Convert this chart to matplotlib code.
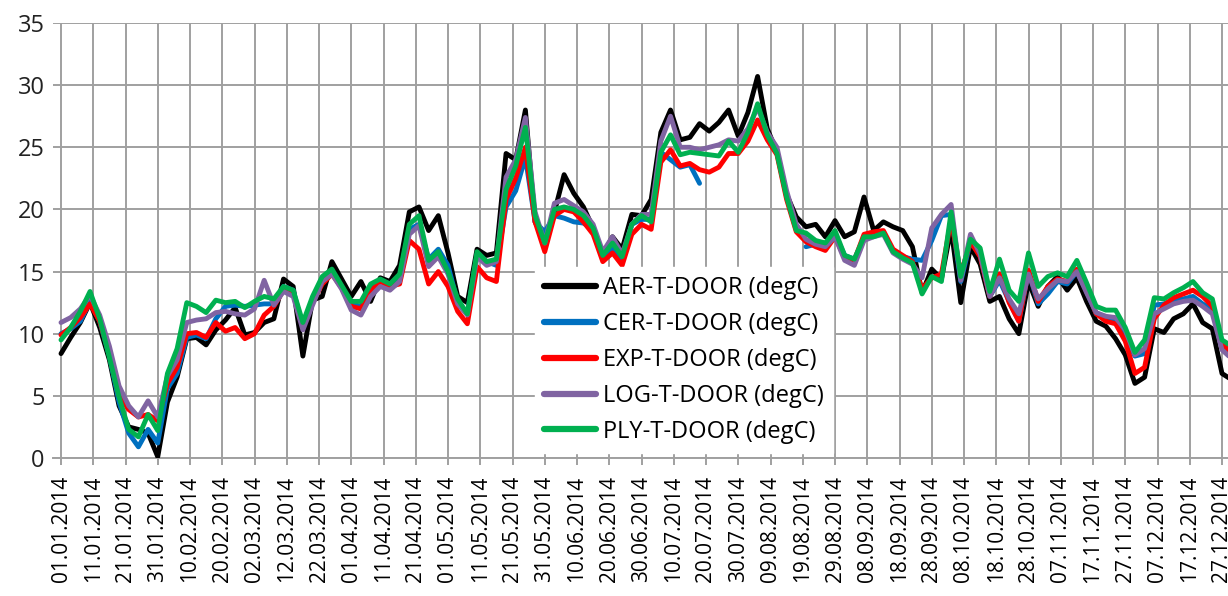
import numpy as np
import pandas as pd
import matplotlib
matplotlib.use("Agg")
import matplotlib.pyplot as plt

plt.rcParams['font.family'] = ['Open Sans', 'DejaVu Sans']

# sample days (offset from 01.01.2014), every 3 days
start = pd.Timestamp('2014-01-01')
sample_days = list(range(0, 364, 3))

nan = np.nan
aer = [8.4, 9.7, 10.9, 12.5, 10.5, 7.9, 4.2, 2.5, 2.3, 2.0,
       0.1, 4.5, 6.5, 9.6, 9.7, 9.1, 10.3, 11.1, 12.1, 9.9,
       10.1, 10.9, 11.2, 14.4, 13.8, 8.2, 12.7, 13.0, 15.8, 14.4,
       13.0, 14.2, 12.6, 14.5, 14.2, 15.5, 19.8, 20.2, 18.3, 19.5,
       16.5, 13.0, 12.5, 16.8, 16.3, 16.5, 24.5, 24.0, 28.0, 19.0,
       17.5, 19.8, 22.8, 21.3, 20.2, 18.5, 16.3, 17.8, 16.8, 19.6,
       19.5, 20.8, 26.2, 28.0, 25.6, 25.8, 26.9, 26.3, 27.0, 28.0,
       25.9, 27.8, 30.7, 26.5, 24.6, 21.2, 19.4, 18.6, 18.8, 17.8,
       19.1, 17.8, 18.2, 21.0, 18.3, 19.0, 18.6, 18.3, 17.0, 13.3,
       15.2, 14.4, 18.5, 12.5, 17.0, 15.6, 12.6, 13.0, 11.2, 10.0,
       14.2, 12.2, 13.8, 14.6, 13.5, 14.5, 12.6, 11.0, 10.6, 9.6,
       8.3, 6.0, 6.5, 10.4, 10.1, 11.2, 11.6, 12.4, 10.9, 10.4,
       6.8, 6.3]
cer = [10.0, 10.4, 11.0, 12.6, 11.0, 8.2, 4.5, 2.0, 0.9, 2.3,
       1.2, 5.6, 6.8, 9.7, 9.9, 9.6, 11.2, 12.2, 12.3, 12.2,
       12.3, 12.4, 12.4, 13.8, 13.5, 10.5, 12.8, 14.2, 15.0, 13.8,
       12.4, 12.2, 13.6, 14.3, 14.0, 14.6, 18.4, 18.8, 16.0, 16.8,
       15.5, 12.5, 11.6, 16.4, 15.8, 15.5, 20.2, 21.5, 24.2, 19.0,
       18.2, 19.5, 19.3, 19.0, 18.9, 18.4, 16.2, 16.8, 16.0, 18.8,
       19.2, 19.2, 24.6, 24.0, 23.4, 23.6, 22.1, nan, nan, nan,
       nan, nan, nan, nan, nan, nan, nan, 17.0, 17.2, 17.0,
       18.0, 16.3, 16.0, 17.6, 18.0, 18.2, 16.6, 16.2, 16.0, 15.9,
       17.5, 19.5, 19.6, 14.2, 17.4, 16.4, 13.0, 14.3, 12.6, 11.0,
       15.0, 12.4, 13.2, 14.2, 14.0, 15.0, 13.4, 11.6, 11.3, 11.0,
       9.8, 8.2, 8.4, 12.3, 12.4, 12.7, 12.8, 13.0, 12.4, 12.0,
       8.8, 8.0]
exp = [9.9, 10.5, 11.3, 12.4, 11.0, 8.4, 5.0, 3.9, 3.3, 3.5,
       3.0, 6.0, 7.3, 10.0, 10.1, 9.7, 10.9, 10.2, 10.5, 9.6,
       10.0, 11.5, 12.2, 13.5, 13.3, 10.6, 12.5, 14.0, 14.8, 13.7,
       12.2, 12.0, 13.4, 14.2, 13.8, 14.0, 17.5, 16.8, 14.0, 15.0,
       13.8, 11.8, 10.8, 15.4, 14.5, 14.2, 20.8, 22.5, 25.0, 19.0,
       16.6, 19.5, 20.0, 19.8, 19.0, 18.0, 15.8, 16.5, 15.5, 18.0,
       18.8, 18.4, 23.8, 24.8, 23.5, 23.7, 23.2, 23.0, 23.4, 24.5,
       24.5, 25.5, 27.2, 25.6, 24.4, 20.8, 18.2, 17.4, 17.0, 16.7,
       17.8, 16.1, 15.9, 18.0, 18.2, 18.3, 16.8, 16.3, 15.8, 13.6,
       14.5, 14.8, 19.2, 14.8, 17.4, 16.2, 13.0, 14.8, 12.5, 11.0,
       15.1, 12.6, 13.8, 14.4, 14.2, 15.2, 13.6, 11.6, 11.0, 10.8,
       9.4, 6.8, 7.3, 11.2, 12.3, 12.9, 13.2, 13.5, 13.0, 12.2,
       9.2, 8.5]
log = [10.9, 11.3, 12.0, 13.1, 11.5, 9.0, 5.8, 4.2, 3.3, 4.6,
       3.3, 6.6, 7.9, 10.9, 11.1, 11.2, 11.7, 11.8, 11.6, 11.5,
       12.0, 14.3, 12.3, 13.4, 13.0, 10.3, 12.3, 14.2, 14.8, 13.6,
       11.9, 11.5, 13.0, 13.8, 13.5, 14.2, 18.0, 18.7, 15.4, 16.2,
       14.8, 12.4, 11.5, 16.2, 15.5, 15.8, 22.6, 24.0, 27.4, 19.8,
       17.3, 20.5, 20.8, 20.3, 19.8, 18.8, 16.6, 17.8, 16.4, 18.8,
       19.6, 19.6, 25.5, 27.5, 25.0, 25.0, 24.8, 25.0, 25.2, 25.6,
       25.5, 26.5, 28.2, 26.2, 25.0, 21.5, 18.8, 17.6, 17.2, 17.0,
       17.8, 15.9, 15.5, 17.5, 17.8, 18.0, 16.5, 16.0, 15.6, 14.5,
       18.5, 19.6, 20.4, 14.3, 18.0, 16.4, 13.0, 14.5, 12.8, 11.6,
       14.8, 12.8, 13.6, 14.3, 14.2, 15.0, 13.3, 11.7, 11.4, 11.3,
       10.3, 8.3, 8.8, 11.6, 12.0, 12.4, 12.6, 12.7, 12.2, 11.6,
       8.7, 8.0]
ply = [9.5, 10.5, 11.8, 13.4, 11.2, 8.1, 4.9, 2.3, 1.7, 3.5,
       2.2, 6.8, 8.8, 12.5, 12.2, 11.7, 12.7, 12.5, 12.6, 12.1,
       12.6, 13.0, 12.8, 13.8, 13.5, 10.9, 13.0, 14.6, 15.2, 13.9,
       12.6, 12.6, 14.0, 14.4, 14.0, 14.8, 18.8, 19.5, 15.9, 16.6,
       15.0, 12.8, 11.6, 16.6, 15.8, 16.0, 21.6, 23.5, 26.6, 19.5,
       17.3, 20.0, 20.2, 20.0, 19.5, 18.5, 16.3, 17.3, 16.2, 18.8,
       19.5, 19.0, 24.6, 26.0, 24.4, 24.6, 24.5, 24.4, 24.3, 25.5,
       24.6, 26.2, 28.5, 26.0, 24.5, 21.0, 18.3, 18.1, 17.5, 17.3,
       18.3, 16.3, 16.0, 17.8, 17.8, 18.1, 16.6, 16.1, 15.7, 13.2,
       14.6, 14.2, 19.8, 14.6, 17.6, 16.9, 13.4, 16.0, 13.5, 12.6,
       16.5, 13.8, 14.6, 14.9, 14.6, 15.9, 14.1, 12.2, 11.9, 11.9,
       10.5, 8.5, 9.5, 12.9, 12.8, 13.3, 13.7, 14.2, 13.3, 12.8,
       9.5, 9.0]

series_names = ['AER-T-DOOR (degC)', 'CER-T-DOOR (degC)', 'EXP-T-DOOR (degC)',
                'LOG-T-DOOR (degC)', 'PLY-T-DOOR (degC)']
series_colors = ['#000000', '#0070C0', '#FF0000', '#8064A2', '#00B050']

tick_labels = ['01.01.2014', '11.01.2014', '21.01.2014', '31.01.2014', '10.02.2014',
               '20.02.2014', '02.03.2014', '12.03.2014', '22.03.2014', '01.04.2014',
               '11.04.2014', '21.04.2014', '01.05.2014', '11.05.2014', '21.05.2014',
               '31.05.2014', '10.06.2014', '20.06.2014', '30.06.2014', '10.07.2014',
               '20.07.2014', '30.07.2014', '09.08.2014', '19.08.2014', '29.08.2014',
               '08.09.2014', '18.09.2014', '28.09.2014', '08.10.2014', '18.10.2014',
               '28.10.2014', '07.11.2014', '17.11.2014', '27.11.2014', '07.12.2014',
               '17.12.2014', '27.12.2014']

W, H = 1228, 596
fig = plt.figure(figsize=(W / 100, H / 100), dpi=100)
px_day = 3.225
x0_px = 61.0
left_px, right_day = 53.0, 366.0
xl = -(x0_px - left_px) / px_day
right_px = x0_px + right_day * px_day
ax = fig.add_axes([left_px / W, (H - 458) / H, (right_px - left_px) / W, 435 / H])

x = np.array(sample_days, dtype=float)
for vals, name, col in zip([aer, cer, exp, log, ply], series_names, series_colors):
    ax.plot(x, np.array(vals, dtype=float), color=col, lw=3.5, label=name,
            solid_joinstyle='round', solid_capstyle='round', zorder=3)

ax.set_xlim(xl, right_day)
ax.set_ylim(0, 35)
grid_col = '#a0a0a0'
tick_pos = []
for lab in tick_labels:
    d = pd.to_datetime(lab, format='%d.%m.%Y')
    tick_pos.append((d - start).days)
ax.set_xticks(tick_pos)
ax.set_xticklabels(tick_labels, rotation=90, fontsize=15, color='#000000')
ax.set_yticks(np.arange(0, 36, 5))
ax.set_yticklabels([str(v) for v in range(0, 36, 5)], fontsize=17, color='#222222')
ax.grid(True, color=grid_col, lw=1.4, zorder=0)
ax.set_axisbelow(True)
for s in ['top', 'right', 'left']:
    ax.spines[s].set_visible(False)
ax.spines['bottom'].set_color(grid_col)
ax.spines['bottom'].set_linewidth(1.4)
ax.tick_params(axis='x', length=5, width=1.4, color=grid_col, pad=8)
ax.tick_params(axis='y', length=0, pad=6)

leg = ax.legend(loc='upper left', bbox_to_anchor=(535 / W, 1 - 267 / H),
                bbox_transform=fig.transFigure, fontsize=17, frameon=True,
                fancybox=False, framealpha=1, facecolor='white', edgecolor='white',
                borderaxespad=0, borderpad=0.4, handlelength=2.2, handletextpad=0.28,
                labelspacing=0.5)
for l in leg.get_lines():
    l.set_linewidth(4.5)
leg.set_zorder(5)

fig.savefig('out.png', dpi=100)
